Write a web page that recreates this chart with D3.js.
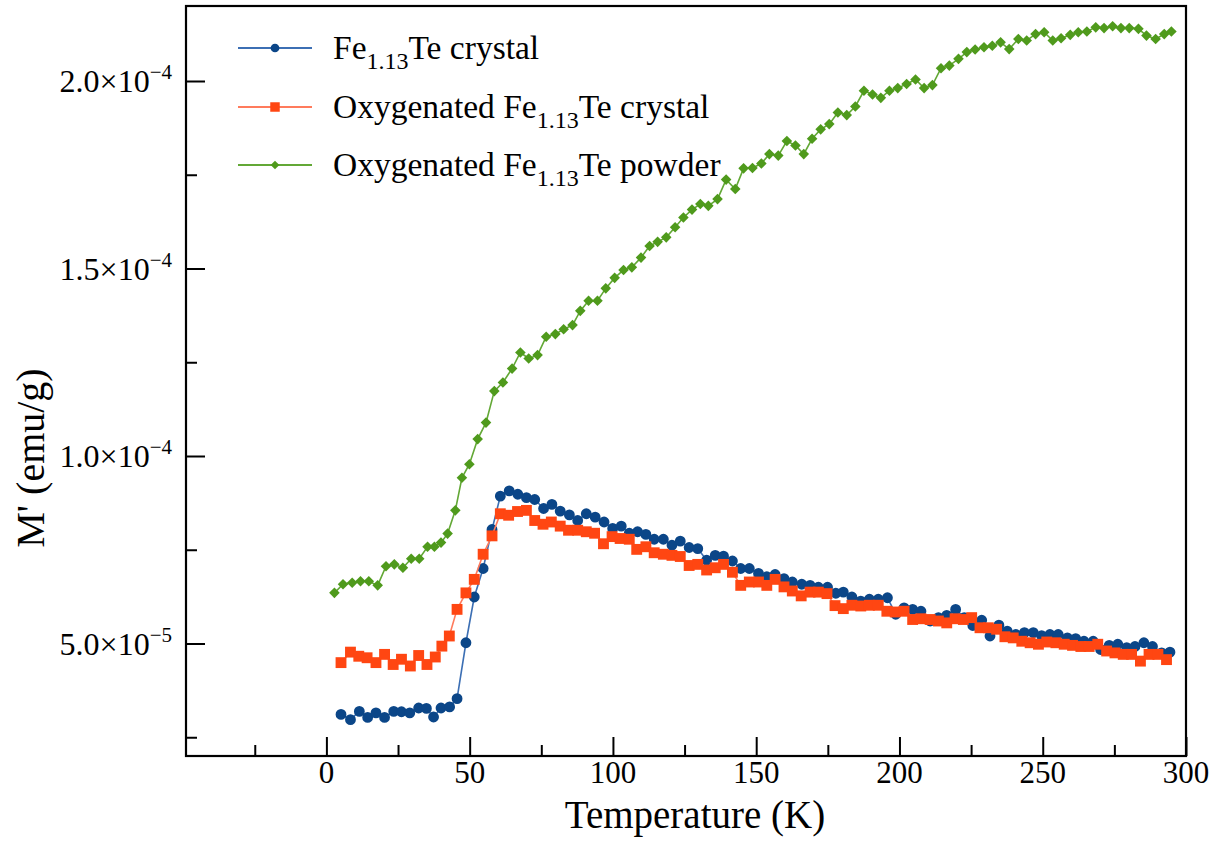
<!DOCTYPE html>
<html>
<head>
<meta charset="utf-8">
<script src="https://cdn.jsdelivr.net/npm/d3@7"></script>
<style>
  html, body { margin: 0; padding: 0; background: #fff; }
  text { font-family: "Liberation Serif", "Times New Roman", serif; fill: #000; }
</style>
</head>
<body>
<svg id="chart" width="1217" height="854"></svg>
<script>
// ---------- DATA (M' in units of 1e-5 emu/g) ----------
const crystalT = [5.1,8.4,11.5,14.4,17.3,20.3,23.5,26.2,29.1,32.2,34.9,37.4,40.0,43.0,45.6,48.7,51.6,54.7,57.8,60.7,63.8,66.8,69.8,72.7,75.8,78.7,81.6,84.8,87.7,90.7,93.8,96.9,99.9,102.9,105.7,108.6,111.5,114.4,117.6,120.6,123.5,126.6,129.6,132.7,135.7,138.6,141.7,144.6,147.6,150.8,153.7,156.6,159.7,162.6,165.9,168.8,171.7,174.9,177.8,180.4,183.4,186.5,189.5,192.6,195.8,198.7,201.6,204.6,207.5,210.7,213.6,216.5,219.6,222.6,225.6,228.7,231.6,234.7,237.6,240.6,243.6,246.7,249.6,252.5,255.4,258.6,261.5,264.4,267.6,270.2,273.2,276.2,279.3,282.2,285.3,288.3,291.5,294.4];
const crystalM = [3.11,2.97,3.19,3.03,3.15,3.03,3.19,3.18,3.15,3.28,3.27,3.04,3.28,3.31,3.53,5.02,6.24,7.00,8.04,8.93,9.07,8.98,8.89,8.84,8.60,8.71,8.53,8.43,8.28,8.46,8.37,8.24,8.07,8.13,7.94,7.98,7.91,7.78,7.78,7.62,7.73,7.56,7.53,7.22,7.35,7.33,7.20,7.00,7.00,6.87,6.78,6.84,6.73,6.64,6.58,6.55,6.50,6.50,6.34,6.37,6.24,6.13,6.18,6.18,6.22,5.78,5.95,5.91,5.86,5.60,5.69,5.75,5.91,5.69,5.48,5.62,5.20,5.49,5.33,5.24,5.29,5.29,5.21,5.24,5.24,5.15,5.13,5.06,5.06,4.84,4.95,4.98,4.89,4.92,5.02,4.92,4.75,4.77];

const oxCrystalT = [5.1,8.4,11.3,14.2,17.3,20.3,23.3,26.2,29.3,32.2,35.1,38.0,40.3,42.9,45.6,48.7,51.6,54.7,57.8,60.7,63.6,66.7,69.8,72.7,75.6,78.5,81.6,84.5,87.7,90.7,93.6,96.7,99.7,102.5,105.7,108.3,111.5,114.4,117.6,120.6,123.5,126.6,129.6,132.7,135.7,138.6,141.7,144.6,147.6,150.8,153.7,156.6,159.7,162.6,165.7,168.8,171.7,174.7,177.5,180.4,183.4,186.5,189.5,192.6,195.6,198.5,201.6,204.6,207.5,210.7,213.6,216.5,219.4,222.3,225.2,228.1,231.0,233.9,236.8,239.7,242.7,245.6,248.5,251.4,254.6,257.5,260.4,263.3,266.2,269.2,272.3,275.2,278.1,281.0,284.1,287.1,290.2,293.2];
const oxCrystalM = [4.49,4.77,4.66,4.62,4.49,4.71,4.44,4.58,4.40,4.68,4.44,4.64,4.93,5.20,5.91,6.35,6.71,7.38,7.87,8.46,8.42,8.52,8.55,8.28,8.18,8.24,8.13,8.02,8.02,7.98,7.94,7.66,7.85,7.80,7.78,7.51,7.58,7.42,7.38,7.35,7.32,7.08,7.11,6.96,7.02,7.11,6.90,6.55,6.64,6.64,6.55,6.71,6.51,6.40,6.27,6.37,6.37,6.33,6.01,5.93,6.02,6.00,6.02,6.02,5.86,5.84,5.86,5.64,5.66,5.64,5.60,5.55,5.66,5.64,5.69,5.42,5.42,5.38,5.18,5.15,5.06,5.02,4.98,5.04,5.02,4.98,4.95,4.92,4.92,4.98,4.80,4.75,4.71,4.71,4.53,4.71,4.71,4.57];

const oxPowderT = [2.8,5.8,9.0,11.9,14.8,17.9,20.8,23.7,26.7,29.6,32.4,35.3,37.7,40.0,42.3,45.0,47.3,49.9,52.8,55.7,58.6,61.6,64.8,67.7,70.6,73.7,76.7,79.9,82.8,85.9,88.6,91.5,94.6,97.5,100.6,103.7,106.6,109.8,112.8,115.6,118.6,121.7,124.6,127.6,130.5,133.3,136.5,139.5,142.7,145.6,148.7,151.8,154.6,157.7,160.7,163.7,166.6,169.5,172.5,175.5,178.5,181.6,184.6,187.6,190.6,193.5,196.5,199.4,202.5,205.6,208.6,211.5,214.5,217.4,220.6,223.5,226.4,229.5,232.4,235.3,238.3,241.5,244.4,247.5,250.5,253.5,256.4,259.6,262.4,265.4,268.5,271.4,274.4,277.3,280.2,283.4,286.2,289.4,292.4,294.9];
const oxPowderM = [6.35,6.58,6.62,6.66,6.66,6.55,7.06,7.11,7.02,7.26,7.26,7.58,7.58,7.69,7.93,8.55,9.42,9.78,10.45,10.89,11.73,11.96,12.33,12.76,12.60,12.69,13.18,13.25,13.38,13.49,13.87,14.14,14.14,14.47,14.75,14.96,15.03,15.29,15.60,15.71,15.83,16.10,16.36,16.57,16.72,16.67,16.85,17.37,17.12,17.67,17.68,17.80,18.05,18.01,18.40,18.28,18.05,18.46,18.71,18.85,19.16,19.09,19.32,19.74,19.64,19.55,19.74,19.81,19.92,20.04,19.81,19.89,20.34,20.41,20.59,20.77,20.84,20.90,20.94,21.03,20.85,21.12,21.08,21.25,21.30,21.08,21.14,21.23,21.30,21.32,21.43,21.41,21.46,21.41,21.41,21.39,21.21,21.12,21.25,21.32];

const seriesNames = ["Fe|1.13|Te crystal", "Oxygenated Fe|1.13|Te crystal", "Oxygenated Fe|1.13|Te powder"];
const xMajorTicks = [0, 50, 100, 150, 200, 250, 300];
const xMinorTicks = [-25, 25, 75, 125, 175, 225, 275];
const yMajorTicks = [5, 10, 15, 20];
const yMinorTicks = [2.5, 7.5, 12.5, 17.5];
const xTitle = "Temperature (K)";
const yTitle = "M' (emu/g)";

// ---------- LAYOUT ----------
const svg = d3.select("#chart");
const L = 186, R = 1186, T = 6, B = 756;
const x = d3.scaleLinear().domain([-49, 300]).range([L, R]);
const y = d3.scaleLinear().domain([2.0, 22.0]).range([B, T]);

const styles = [
  { line: "#3c6fb4", fill: "#0b4688", sym: d3.symbolCircle, size: 92, rot: 0, lsize: 60 },
  { line: "#ff7b5c", fill: "#ff4612", sym: d3.symbolSquare, size: 118, rot: 0, lsize: 90 },
  { line: "#63a836", fill: "#4f9a1c", sym: d3.symbolSquare, size: 56, rot: 45, lsize: 38 }
];
const data = [
  crystalT.map((t, i) => [t, crystalM[i]]),
  oxCrystalT.map((t, i) => [t, oxCrystalM[i]]),
  oxPowderT.map((t, i) => [t, oxPowderM[i]])
];

// ---------- AXES ----------
const xAxisMajor = d3.axisBottom(x).tickValues(xMajorTicks).tickSize(-19).tickFormat("");
const xAxisMinor = d3.axisBottom(x).tickValues(xMinorTicks).tickSize(-11).tickFormat("");
const yAxisMajor = d3.axisLeft(y).tickValues(yMajorTicks).tickSize(-19).tickFormat("");
const yAxisMinor = d3.axisLeft(y).tickValues(yMinorTicks).tickSize(-11).tickFormat("");

function styleAxis(g) {
  g.select(".domain").remove();
  g.selectAll("line").attr("stroke", "#000").attr("stroke-width", 2);
}
svg.append("g").attr("transform", `translate(0,${B})`).call(xAxisMajor).call(styleAxis);
svg.append("g").attr("transform", `translate(0,${B})`).call(xAxisMinor).call(styleAxis);
svg.append("g").attr("transform", `translate(${L},0)`).call(yAxisMajor).call(styleAxis);
svg.append("g").attr("transform", `translate(${L},0)`).call(yAxisMinor).call(styleAxis);

// frame
svg.append("rect").attr("x", L).attr("y", T).attr("width", R - L).attr("height", B - T)
  .attr("fill", "none").attr("stroke", "#000").attr("stroke-width", 2.2);

// x tick labels
svg.append("g").selectAll("text").data(xMajorTicks).join("text")
  .attr("x", d => x(d)).attr("y", B + 27)
  .attr("text-anchor", "middle").attr("font-size", 31)
  .text(d => d);

// y tick labels: mantissa×10^exp
const yLab = svg.append("g").selectAll("text").data(yMajorTicks).join("text")
  .attr("x", L - 14).attr("y", d => y(d) + 11)
  .attr("text-anchor", "end").attr("font-size", 32);
yLab.each(function (d) {
  const v = d * 1e-5;
  const e = Math.floor(Math.log10(v) + 1e-9);
  const m = v / Math.pow(10, e);
  const t = d3.select(this);
  t.append("tspan").text(m.toFixed(1) + "\u00d710");
  t.append("tspan").attr("font-size", 21).attr("dy", -13).text("\u2212" + Math.abs(e));
});

// axis titles
svg.append("text").attr("x", 695).attr("y", 828)
  .attr("text-anchor", "middle").attr("font-size", 39).text(xTitle);
svg.append("text").attr("transform", `translate(44,${458}) rotate(-90)`)
  .attr("text-anchor", "middle").attr("font-size", 40).text(yTitle);

// ---------- SERIES ----------
const plot = svg.append("g");
const lineGen = d3.line().x(d => x(d[0])).y(d => y(d[1]));
data.forEach((ser, i) => {
  const s = styles[i];
  const g = plot.append("g");
  g.append("path").datum(ser).attr("d", lineGen)
    .attr("fill", "none").attr("stroke", s.line).attr("stroke-width", 1.6);
  g.selectAll("path.m").data(ser).join("path").attr("class", "m")
    .attr("d", d3.symbol().type(s.sym).size(s.size))
    .attr("transform", d => `translate(${x(d[0])},${y(d[1])}) rotate(${s.rot})`)
    .attr("fill", s.fill);
});

// ---------- LEGEND ----------
const legY = [48, 107, 165];
const leg = svg.append("g");
seriesNames.forEach((name, i) => {
  const s = styles[i];
  const yy = legY[i];
  leg.append("line").attr("x1", 238).attr("x2", 312).attr("y1", yy).attr("y2", yy)
    .attr("stroke", s.line).attr("stroke-width", 2);
  leg.append("path").attr("d", d3.symbol().type(s.sym).size(s.lsize))
    .attr("transform", `translate(275,${yy}) rotate(${s.rot})`).attr("fill", s.fill);
  const parts = name.split("|");
  const t = leg.append("text").attr("x", 333).attr("y", yy + 11).attr("font-size", 33.5);
  t.append("tspan").text(parts[0]);
  t.append("tspan").attr("font-size", 24).attr("dy", 10).text(parts[1]);
  t.append("tspan").attr("dy", -10).text(parts[2]);
});
</script>
</body>
</html>
